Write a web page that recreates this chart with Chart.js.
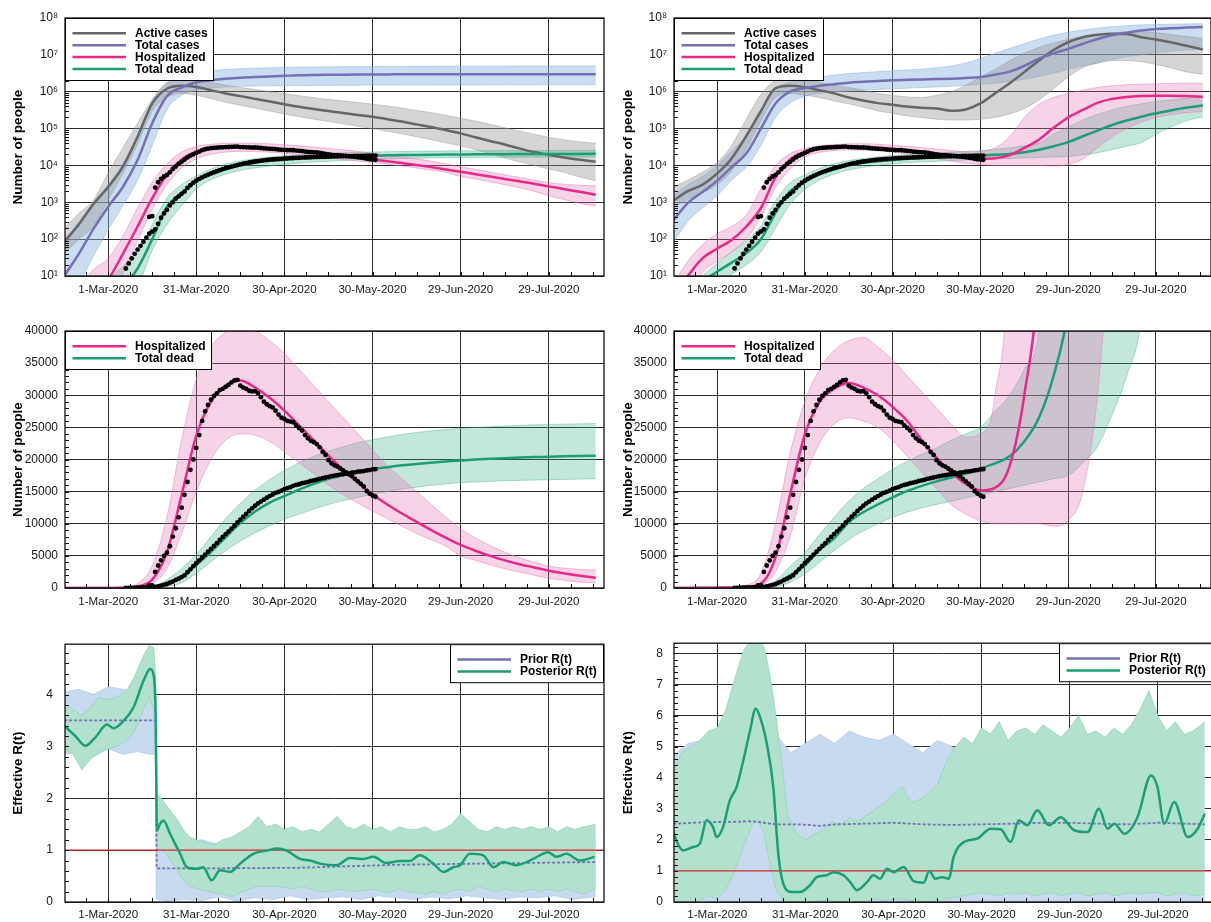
<!DOCTYPE html>
<html>
<head>
<meta charset="utf-8">
<script src="https://cdn.jsdelivr.net/npm/chart.js@4.4.1/dist/chart.umd.min.js"></script>
<style>
  html, body { margin: 0; padding: 0; background: #fff; }
  body { position: relative; width: 1211px; height: 922px; overflow: hidden; }
  canvas { position: absolute; }
</style>
</head>
<body>
<canvas id="casesLeft" width="608" height="302" style="left:0;top:0"></canvas>
<canvas id="casesRight" width="605" height="302" style="left:610px;top:0"></canvas>
<canvas id="hospLeft" width="608" height="301" style="left:0;top:313px"></canvas>
<canvas id="hospRight" width="605" height="301" style="left:610px;top:313px"></canvas>
<canvas id="rLeft" width="608" height="297" style="left:0;top:625px"></canvas>
<canvas id="rRight" width="605" height="297" style="left:610px;top:625px"></canvas>
<script>
// x axis: days counted from 1-Mar-2020
const X_MIN = -14.7, X_MAX = 168.8, X_MINOR = 7.5;
const tickDays = [0, 30, 60, 90, 120, 150];
const tickLabels = ['1-Mar-2020', '31-Mar-2020', '30-Apr-2020', '30-May-2020', '29-Jun-2020', '29-Jul-2020'];
const logTicks = [1e1, 1e2, 1e3, 1e4, 1e5, 1e6, 1e7, 1e8];
const countTicks = [0, 5000, 10000, 15000, 20000, 25000, 30000, 35000, 40000];
const rTicksLeft = [0, 1, 2, 3, 4];
const rTicksRight = [0, 1, 2, 3, 4, 5, 6, 7, 8];
const R_MAX_LEFT = 4.97, R_MAX_RIGHT = 8.33;
const R_THRESHOLD = 1;

// model output sampled on these days
const modelDays = [-15, -10, -5, 0, 5, 10, 15, 20, 25, 30, 35, 40, 45, 50, 55, 60, 65, 70, 75, 80,
  85, 90, 95, 100, 105, 110, 115, 120, 125, 130, 135, 140, 145, 150, 155, 160, 166];

// ---- scenario 1 (left column)
const activeL   = [85, 250, 900, 2600, 9300, 60000, 480000, 1200000, 1450000, 1350000, 1100000, 900000, 760000, 640000, 540000, 460000, 390000, 340000, 300000, 265000, 235000, 209000, 180000, 155000, 130000, 110000, 91000, 74000, 58000, 46000, 37000, 29000, 23000, 19500, 16500, 14500, 12600];
const activeLoL = [40, 100, 220, 1150, 6000, 38000, 300000, 700000, 900000, 800000, 650000, 520000, 430000, 360000, 300000, 250000, 210000, 180000, 155000, 135000, 115000, 100000, 85000, 72000, 60000, 50000, 41000, 34000, 27000, 21000, 16000, 12500, 10000, 8000, 6500, 5000, 3800];
const activeHiL = [200, 500, 1150, 6300, 30000, 140000, 620000, 1800000, 2200000, 2100000, 1800000, 1500000, 1300000, 1150000, 1000000, 880000, 780000, 690000, 620000, 560000, 510000, 460000, 410000, 360000, 310000, 270000, 230000, 190000, 160000, 130000, 105000, 85000, 70000, 58000, 50000, 44000, 40000];
const totalL    = [10, 40, 190, 760, 2600, 14000, 140000, 760000, 1300000, 1800000, 2050000, 2250000, 2400000, 2500000, 2600000, 2700000, 2800000, 2850000, 2880000, 2900000, 2920000, 2940000, 2950000, 2960000, 2970000, 2975000, 2980000, 2985000, 2990000, 2992000, 2994000, 2996000, 2997000, 2998000, 2999000, 3000000, 3000000];
const totalLoL  = [1.5, 6, 35, 180, 800, 4000, 35000, 330000, 800000, 1100000, 1250000, 1350000, 1400000, 1430000, 1450000, 1460000, 1470000, 1480000, 1490000, 1500000, 1500000, 1510000, 1510000, 1520000, 1520000, 1520000, 1530000, 1530000, 1530000, 1540000, 1540000, 1540000, 1540000, 1550000, 1550000, 1550000, 1550000];
const totalHiL  = [80, 300, 1000, 3000, 11000, 65000, 550000, 1650000, 2600000, 3300000, 3700000, 4000000, 4200000, 4350000, 4450000, 4550000, 4620000, 4680000, 4720000, 4760000, 4790000, 4820000, 4840000, 4860000, 4880000, 4890000, 4900000, 4910000, 4920000, 4930000, 4940000, 4950000, 4950000, 4960000, 4960000, 4970000, 4970000];
const hospL     = [0.5, 1, 3, 8, 40, 220, 1300, 5600, 14500, 23700, 29000, 31500, 32300, 31200, 29600, 27600, 25300, 23000, 20600, 18400, 16400, 14600, 13000, 11600, 10300, 9000, 7800, 6700, 5800, 5000, 4300, 3700, 3200, 2700, 2300, 1950, 1600];
const hospLoL   = [0.1, 0.2, 0.6, 2, 12, 90, 650, 3000, 8500, 15000, 20000, 23000, 24000, 23800, 22800, 21200, 19500, 17800, 16000, 14500, 13200, 12000, 10800, 9600, 8500, 7500, 6500, 5000, 4300, 3600, 3000, 2500, 2000, 1500, 1200, 950, 800];
const hospHiL   = [2, 5, 15, 30, 120, 700, 3500, 11000, 23000, 32500, 37500, 39800, 40500, 40000, 38500, 36500, 34000, 31500, 29000, 26500, 24000, 21500, 19000, 17000, 15000, 13000, 11000, 9200, 7800, 6600, 5600, 4700, 4000, 3400, 3100, 2900, 2800];
const deadL     = [0.3, 0.5, 1, 2, 5, 16, 100, 750, 1800, 3600, 5600, 7900, 10100, 11900, 13300, 14300, 15300, 16200, 17000, 17600, 18100, 18500, 18800, 19100, 19300, 19500, 19700, 19850, 20000, 20100, 20200, 20300, 20380, 20430, 20500, 20550, 20600];
const deadLoL   = [0.05, 0.1, 0.3, 0.6, 1.5, 5, 50, 250, 800, 2300, 4100, 5800, 7300, 8600, 9700, 10700, 11500, 12300, 13000, 13600, 14100, 14600, 15000, 15400, 15700, 16000, 16200, 16400, 16500, 16600, 16700, 16750, 16800, 16850, 16900, 16950, 17000];
const deadHiL   = [1, 2, 4, 8, 18, 40, 250, 1300, 3000, 5200, 8000, 10800, 13200, 15200, 16900, 18300, 19500, 20500, 21300, 22000, 22600, 23100, 23500, 23900, 24200, 24450, 24650, 24850, 25000, 25100, 25200, 25300, 25400, 25450, 25500, 25550, 25600];

// ---- scenario 2 (right column)
const activeR   = [1100, 2000, 3000, 6000, 15500, 63000, 300000, 1250000, 1450000, 1320000, 1100000, 900000, 700000, 580000, 490000, 440000, 395000, 370000, 350000, 305000, 330000, 480000, 900000, 1700000, 3400000, 7000000, 13500000, 22000000, 30000000, 35000000, 37500000, 37000000, 30000000, 26000000, 22000000, 18000000, 14000000];
const activeLoR = [700, 1200, 1800, 3000, 7000, 28000, 160000, 700000, 900000, 800000, 700000, 560000, 470000, 380000, 300000, 260000, 220000, 200000, 180000, 170000, 170000, 180000, 200000, 250000, 350000, 600000, 1200000, 2500000, 4500000, 6000000, 7000000, 7000000, 6500000, 5500000, 4500000, 3500000, 3000000];
const activeHiR = [2500, 4000, 6500, 12000, 35000, 180000, 850000, 2000000, 2400000, 2100000, 1800000, 1500000, 1300000, 1100000, 900000, 800000, 720000, 700000, 800000, 1000000, 1500000, 2500000, 4000000, 7000000, 11000000, 16000000, 21000000, 26000000, 31000000, 35000000, 39000000, 42000000, 42000000, 40000000, 36000000, 32000000, 28000000];
const totalR    = [320, 950, 1900, 3800, 9000, 21000, 100000, 480000, 1000000, 1250000, 1450000, 1600000, 1750000, 1850000, 1950000, 2050000, 2100000, 2150000, 2200000, 2250000, 2350000, 2500000, 2900000, 3500000, 5000000, 7900000, 11000000, 14500000, 20000000, 27000000, 34000000, 40000000, 46000000, 50000000, 53000000, 55000000, 57000000];
const totalLoR  = [80, 300, 700, 1500, 4000, 9000, 35000, 200000, 500000, 750000, 900000, 1000000, 1050000, 1100000, 1150000, 1200000, 1250000, 1300000, 1350000, 1400000, 1500000, 1600000, 1700000, 1900000, 2200000, 2600000, 3200000, 4000000, 5000000, 6000000, 7500000, 9000000, 10000000, 11500000, 12500000, 13500000, 14000000];
const totalHiR  = [1500, 3000, 5000, 10000, 25000, 60000, 300000, 1200000, 1800000, 2200000, 2500000, 2800000, 3100000, 3300000, 3500000, 3700000, 3900000, 4100000, 4500000, 5000000, 6000000, 8000000, 11000000, 15000000, 20000000, 27000000, 34000000, 41000000, 47000000, 53000000, 58000000, 62000000, 65000000, 67000000, 68000000, 69000000, 70000000];
const hospR     = [3, 10, 30, 55, 95, 220, 700, 4800, 14600, 23900, 28900, 31000, 31900, 31200, 30000, 28200, 26000, 23000, 20300, 18000, 16200, 15200, 15600, 19000, 30000, 50000, 105000, 200000, 320000, 500000, 640000, 720000, 760000, 775000, 775000, 760000, 730000];
const hospLoR   = [0.5, 3, 12, 25, 45, 100, 400, 2500, 8000, 17000, 22500, 25500, 26500, 26000, 25000, 23000, 20500, 18000, 15500, 13000, 11500, 10500, 10000, 10000, 10000, 10000, 9600, 10500, 15000, 30000, 60000, 100000, 150000, 200000, 240000, 270000, 290000];
const hospHiR   = [6, 25, 70, 140, 220, 450, 2300, 10000, 21000, 29000, 34000, 37000, 38500, 39000, 37500, 35500, 33000, 30500, 28000, 25500, 23500, 24000, 30000, 60000, 200000, 450000, 700000, 900000, 1100000, 1300000, 1450000, 1550000, 1600000, 1650000, 1680000, 1700000, 1700000];
const deadR     = [1.5, 3, 7, 13, 23, 42, 100, 520, 2000, 3500, 5900, 7700, 10200, 11800, 13000, 14100, 15100, 15900, 16600, 17200, 17800, 18600, 19400, 20500, 22800, 26500, 33000, 43000, 62000, 88000, 125000, 165000, 210000, 260000, 310000, 365000, 425000];
const deadLoR   = [0.3, 0.6, 2, 5, 11, 20, 45, 200, 900, 2200, 4000, 5800, 7500, 8900, 10000, 11000, 11800, 12500, 13000, 13500, 14000, 14500, 15000, 15500, 16000, 16500, 17000, 17500, 19500, 22000, 27000, 33000, 42000, 70000, 110000, 160000, 210000];
const deadHiR   = [2, 4, 10, 22, 45, 90, 230, 1100, 3400, 5500, 8300, 11000, 13500, 15500, 17000, 18500, 19700, 20800, 21800, 23000, 24000, 25000, 27500, 30000, 34000, 40000, 70000, 110000, 170000, 240000, 320000, 400000, 470000, 540000, 600000, 660000, 720000];

// ---- reported data (one value per day)
const hospObsStart = 14;
const hospObs = [400, 420, 2500, 3500, 4300, 5000, 5500, 6500, 8000, 9300, 11000, 12500, 14500, 16500, 18400, 20000, 21800, 23800, 26000, 27500,
  28500, 29300, 29900, 30300, 30800, 31000, 31300, 31600, 32000, 32300, 32400, 31500, 31200, 31000, 30700, 30600, 30650, 30300, 29700, 29000,
  28600, 28300, 28100, 27600, 27000, 26500, 26300, 26000, 25900, 25800, 25300, 24900, 24500, 23800, 23300, 22900, 22700, 22400, 21900, 21200,
  20700, 19900, 19400, 19100, 18900, 18600, 18300, 18000, 17700, 17400, 17000, 16600, 16200, 15800, 15100, 14700, 14400, 14200];
const deadObsStart = 6;
const deadObs = [16, 22, 30, 40, 52, 66, 85, 110, 140, 160, 185, 260, 380, 500, 620, 820, 1000, 1250, 1450, 1700,
  1950, 2450, 2900, 3400, 3850, 4300, 4750, 5200, 5650, 6100, 6550, 7000, 7500, 7950, 8400, 8800, 9250, 9700, 10200, 10650,
  11100, 11550, 12000, 12400, 12800, 13150, 13450, 13750, 14050, 14300, 14550, 14800, 14950, 15150, 15400, 15550, 15700, 15900, 16050, 16150,
  16300, 16400, 16500, 16650, 16750, 16850, 17000, 17100, 17200, 17300, 17400, 17500, 17550, 17650, 17700, 17800, 17850, 17950, 18000, 18100,
  18150, 18200, 18300, 18350, 18450, 18500];

// ---- effective reproduction number, scenario 1
const postDaysL = [-15, -11.2, -7.8, -4.4, -0.4, 1.8, 5.2, 8.6, 12, 14.3, 15.4, 16.2, 16.6, 17.7, 18.8, 21.1, 24.5, 26.8, 30.2, 32.4,
  35.2, 38.1, 41.5, 44.9, 49.4, 54, 57.4, 60.8, 65.3, 68.7, 72.1, 77.8, 82.3, 86.9, 90.2, 94.8, 99.3, 102.7, 106, 110.7,
  114.1, 117.5, 119.8, 123.1, 127.7, 131.1, 134.5, 139, 144.7, 149.8, 152.6, 156, 160.5, 165.6];
const postL = [3.4, 3.2, 3.01, 3.17, 3.42, 3.35, 3.49, 3.75, 4.26, 4.49, 4.39, 3.49, 1.38, 1.51, 1.57, 1.31, 0.93, 0.67, 0.64, 0.67,
  0.42, 0.61, 0.58, 0.74, 0.93, 0.99, 1.03, 0.99, 0.83, 0.8, 0.74, 0.71, 0.85, 0.83, 0.87, 0.75, 0.79, 0.79, 0.9, 0.74,
  0.58, 0.67, 0.71, 0.93, 0.9, 0.67, 0.77, 0.71, 0.83, 0.96, 0.87, 0.93, 0.8, 0.87];
const postBandDaysL = [-15, -12, -9, -6, -3, 0, 3, 6, 9, 12, 14, 15.5, 16.2, 16.6, 18, 20, 22, 24, 26, 28,
  30, 33, 36, 39, 42, 45, 48, 51, 54, 57, 60, 63, 66, 69, 72, 75, 78, 81, 84, 87,
  90, 93, 96, 99, 102, 105, 108, 111, 114, 117, 120, 123, 126, 129, 132, 135, 138, 141, 144, 147,
  150, 153, 156, 159, 162, 166];
const postLoL = [2.95, 2.85, 2.55, 2.75, 2.9, 2.95, 3.0, 3.1, 3.3, 3.7, 3.95, 3.7, 2.2, 1.0, 1.05, 0.9, 0.75, 0.55, 0.4, 0.3,
  0.26, 0.22, 0.18, 0.15, 0.1, 0.18, 0.25, 0.3, 0.3, 0.3, 0.28, 0.25, 0.3, 0.25, 0.2, 0.2, 0.25, 0.22, 0.2, 0.22,
  0.25, 0.2, 0.18, 0.25, 0.2, 0.18, 0.15, 0.2, 0.15, 0.22, 0.25, 0.2, 0.3, 0.25, 0.2, 0.25, 0.22, 0.2, 0.25, 0.2,
  0.25, 0.2, 0.25, 0.2, 0.15, 0.25];
const postHiL = [3.85, 3.7, 3.6, 3.75, 3.95, 3.9, 3.95, 4.05, 4.35, 4.75, 4.95, 4.9, 4.3, 2.1, 2.0, 1.85, 1.7, 1.55, 1.35, 1.25,
  1.2, 1.15, 1.1, 1.2, 1.25, 1.35, 1.45, 1.65, 1.45, 1.5, 1.4, 1.45, 1.35, 1.4, 1.35, 1.5, 1.65, 1.45, 1.4, 1.5,
  1.4, 1.45, 1.35, 1.45, 1.4, 1.4, 1.45, 1.35, 1.4, 1.5, 1.7, 1.55, 1.4, 1.35, 1.45, 1.4, 1.45, 1.4, 1.45, 1.4,
  1.45, 1.35, 1.45, 1.4, 1.45, 1.5];
const priorBandDaysL = [-15, -10, -5, 0, 5, 10, 14, 16.2, 16.4, 20, 26, 32, 38, 44, 50, 56, 62, 68, 74, 80,
  86, 92, 98, 104, 110, 116, 122, 128, 134, 140, 146, 152, 158, 166];
const priorLoL = [2.85, 2.9, 2.8, 2.95, 2.85, 2.9, 2.85, 2.85, 0.05, 0.02, 0.05, 0.03, 0.1, 0.02, 0.08, 0.05, 0.12, 0.05, 0.08, 0.1,
  0.05, 0.12, 0.08, 0.05, 0.1, 0.06, 0.12, 0.08, 0.05, 0.1, 0.08, 0.12, 0.05, 0.1];
const priorHiL = [4.05, 4.1, 4.0, 4.15, 4.1, 4.05, 4.0, 3.95, 1.3, 1.2, 1.15, 1.2, 1.1, 1.25, 1.2, 1.15, 1.25, 1.2, 1.15, 1.25,
  1.2, 1.15, 1.2, 1.25, 1.2, 1.15, 1.25, 1.2, 1.15, 1.2, 1.25, 1.2, 1.15, 1.2];
const priorDaysL = [-15, 16.2, 16.5, 40, 65, 100, 166];
const priorL = [3.5, 3.5, 0.65, 0.65, 0.66, 0.72, 0.77];

// ---- effective reproduction number, scenario 2
const postDaysR = [-15, -13.9, -11.6, -8.2, -5.9, -3.6, -1.4, -0.2, 2, 4.3, 6.6, 8.9, 11.2, 13.1, 14.6, 16.9, 19.1, 20.8, 22.5, 25.4,
  28.2, 31.6, 33.9, 37.3, 39.6, 43, 45.3, 47.6, 51, 53.2, 55.5, 57.8, 60.1, 63.5, 66.9, 70.3, 72.2, 74.3, 76.6, 78.9,
  80.5, 84, 88.5, 93.1, 96.5, 99.9, 102.7, 105.6, 109, 113, 117, 121.5, 126.1, 130, 132.9, 135.2, 138.6, 143.1, 147.7, 149.9,
  152.2, 155.6, 160.2, 163.6, 166];
const postR = [2.31, 1.98, 1.66, 1.77, 1.88, 2.63, 2.41, 2.09, 2.41, 3.27, 3.7, 4.56, 5.52, 6.22, 5.95, 5.09, 3.7, 1.56, 0.59, 0.32,
  0.32, 0.54, 0.8, 0.86, 0.96, 0.86, 0.64, 0.38, 0.64, 0.86, 0.75, 1.07, 0.96, 1.13, 0.67, 0.62, 1.0, 0.75, 0.8, 0.75,
  1.45, 1.93, 2.04, 2.36, 2.34, 1.93, 2.63, 2.47, 2.95, 2.47, 2.73, 2.31, 2.25, 3.0, 2.36, 2.52, 2.2, 2.73, 4.07, 3.7,
  2.52, 3.22, 2.09, 2.36, 2.84];
const postBandDaysR = [-15, -12, -9, -6, -3, 0, 3, 6, 9, 12, 14, 16, 18, 20, 22, 24, 27, 30, 33, 36,
  39, 42, 45, 48, 51, 54, 57, 60, 63, 66, 69, 72, 75, 78, 81, 84, 87, 90, 93, 96,
  99, 102, 105, 108, 111, 114, 117, 120, 123, 126, 129, 132, 135, 138, 141, 144, 147, 150, 153, 156,
  159, 162, 166];
const postLoR = [0, 0, 0, 0.05, 0.2, 0.1, 0.4, 1.0, 1.8, 2.5, 2.6, 2.2, 1.2, 0.4, 0.1, 0, 0, 0, 0, 0.05,
  0.05, 0, 0, 0, 0.05, 0.1, 0.05, 0.1, 0.1, 0.05, 0, 0, 0.05, 0.1, 0.15, 0.2, 0.25, 0.3, 0.25, 0.2,
  0.3, 0.25, 0.3, 0.2, 0.25, 0.3, 0.2, 0.25, 0.3, 0.2, 0.25, 0.3, 0.2, 0.25, 0.3, 0.25, 0.3, 0.3, 0.2, 0.25,
  0.3, 0.2, 0.25];
const postHiR = [4.2, 4.8, 5.0, 5.2, 5.5, 5.6, 6.2, 7.2, 8.1, 8.5, 8.5, 8.2, 7.3, 6.0, 4.5, 2.8, 2.2, 2.0, 2.2, 2.3,
  2.6, 2.5, 2.7, 2.6, 2.8, 3.0, 3.2, 3.5, 3.7, 3.2, 3.3, 3.5, 3.8, 4.5, 5.0, 5.3, 5.1, 5.6, 5.4, 5.8,
  5.2, 5.5, 5.6, 5.4, 5.7, 5.5, 5.3, 5.6, 6.0, 5.4, 5.5, 5.3, 5.6, 5.4, 5.7, 6.2, 6.8, 6.0, 5.5, 5.8,
  5.4, 5.5, 5.8];
const priorLoR = [0.02, 0, 0.05, 0, 0.03, 0, 0.02, 0.05, 0, 0.03, 0, 0.02, 0, 0.05, 0, 0.02, 0, 0.03, 0, 0.02,
  0, 0.05, 0, 0.02, 0, 0.03, 0, 0.02, 0, 0.05, 0, 0.02, 0, 0.03, 0, 0.02, 0];
const priorHiR = [4.7, 5.1, 5.2, 4.8, 5.1, 5.2, 5.0, 5.4, 4.8, 5.1, 5.4, 5.1, 5.5, 5.3, 5.2, 5.4, 5.1, 4.8, 5.2, 5.0,
  4.7, 4.9, 5.2, 5.0, 5.1, 4.9, 5.2, 5.0, 5.1, 5.3, 5.0, 5.2, 5.1, 4.9, 5.2, 5.0, 5.1];
const priorDaysR = [-15, -3, 5, 12, 20, 28, 35, 40, 50, 60, 70, 80, 90, 100, 110, 120, 130, 140, 150, 166];
const priorR = [2.52, 2.57, 2.58, 2.6, 2.5, 2.5, 2.45, 2.5, 2.52, 2.55, 2.5, 2.48, 2.5, 2.52, 2.55, 2.55, 2.52, 2.5, 2.55, 2.5];

// ---- styling
const FONT = '"Liberation Sans", Arial, Helvetica, sans-serif';
const GRID = '#2b2b2b';
const TICK = '#1a1a1a';
const SUP = ['\u2070', '\u00b9', '\u00b2', '\u00b3', '\u2074', '\u2075', '\u2076', '\u2077', '\u2078'];

const GREY = 'rgb(102,102,102)';
const PURPLE = 'rgb(117,112,179)';
const PINK = 'rgb(231,41,138)';
const GREEN = 'rgb(27,158,119)';

const GREY_FILL = 'rgba(150,150,150,0.4)', GREY_EDGE = 'rgba(150,150,150,0.55)';
const BLUE_FILL = 'rgba(140,180,225,0.45)', BLUE_EDGE = 'rgba(140,180,225,0.65)';
const PINK_FILL = 'rgba(225,110,175,0.3)', PINK_EDGE = 'rgba(225,110,175,0.55)';
const GREEN_FILL = 'rgba(60,175,135,0.3)', GREEN_EDGE = 'rgba(60,175,135,0.5)';
const R_BLUE_FILL = 'rgb(200,218,240)', R_BLUE_EDGE = 'rgb(178,203,234)';
const R_GREEN_FILL = 'rgb(178,226,206)', R_GREEN_EDGE = 'rgb(150,212,186)';

const legendCases = [['Active cases', GREY], ['Total cases', PURPLE], ['Hospitalized', PINK], ['Total dead', GREEN]];
const legendHosp = [['Hospitalized', PINK], ['Total dead', GREEN]];
const legendR = [['Prior R(t)', PURPLE], ['Posterior R(t)', GREEN]];

// ---- helpers
const pts = (days, vals) => days.map((d, i) => ({x: d, y: vals[i]}));
const dailyDays = (start, vals) => vals.map((_, i) => start + i);

function curve(days, vals, color, order, extra) {
  return Object.assign({
    data: pts(days, vals), borderColor: color, borderWidth: 2.5, pointRadius: 0,
    fill: false, cubicInterpolationMode: 'monotone', order
  }, extra || {});
}

function band(days, lo, hi, fillColor, edgeColor, order, smooth) {
  const common = {
    borderColor: edgeColor, borderWidth: 0.8, pointRadius: 0, order,
    cubicInterpolationMode: smooth ? 'monotone' : 'default', tension: 0
  };
  return [
    Object.assign({data: pts(days, lo), fill: false}, common),
    Object.assign({data: pts(days, hi), fill: '-1', backgroundColor: fillColor}, common)
  ];
}

function dots(days, vals) {
  return {
    data: pts(days, vals), showLine: false, pointRadius: 2.4,
    pointBackgroundColor: '#000', pointBorderWidth: 0, order: 0
  };
}

function xAxis(height, pad, z) {
  return {
    type: 'linear', min: X_MIN, max: X_MAX, z,
    afterBuildTicks: s => { s.ticks = tickDays.map(v => ({value: v})); },
    afterFit: s => { s.height = height; },
    grid: {color: GRID, lineWidth: 1, drawTicks: false},
    border: {display: false},
    ticks: {
      color: TICK, font: {family: FONT, size: 11.6}, padding: pad,
      autoSkip: false, maxRotation: 0,
      callback: v => tickLabels[tickDays.indexOf(v)]
    }
  };
}

function yAxis(o) {
  return {
    type: o.type || 'linear', min: o.min, max: o.max, z: o.z,
    afterBuildTicks: s => { s.ticks = o.ticks.map(v => ({value: v})); },
    afterFit: s => { s.width = o.width; },
    grid: {color: GRID, lineWidth: 1, drawTicks: false},
    border: {display: false},
    ticks: {color: TICK, font: {family: FONT, size: 12}, padding: o.pad, callback: o.label || (v => String(v))},
    title: {
      display: true, text: o.title, color: '#000',
      font: {family: FONT, size: 13.5, weight: 'bold'}, padding: {top: 10, bottom: 0}
    }
  };
}

const logLabel = v => '10' + SUP[Math.round(Math.log10(v))];

// minor tick positions on the y axes
const logMinor = [];
for (let k = 1; k < 8; k++) for (let m = 2; m < 10; m++) logMinor.push(m * Math.pow(10, k));
const countMinor = [];
for (let v = 1000; v < 40000; v += 1000) countMinor.push(v);
const rMinor = max => { const out = []; for (let i = 1; i * 0.2 < max; i++) out.push(i * 0.2); return out; };

// plot frame plus small inward ticks
function frameMarks(minorY) {
  return {
    id: 'frameMarks',
    afterDraw(chart) {
      const {ctx, chartArea: a, scales: {x, y}} = chart;
      ctx.save();
      ctx.strokeStyle = '#111';
      ctx.lineWidth = 1;
      ctx.beginPath();
      for (let d = Math.ceil(X_MIN / X_MINOR) * X_MINOR; d <= X_MAX; d += X_MINOR) {
        const px = Math.round(x.getPixelForValue(d)) + 0.5;
        ctx.moveTo(px, a.bottom);
        ctx.lineTo(px, a.bottom - 4);
      }
      minorY.forEach(v => {
        const py = Math.round(y.getPixelForValue(v)) + 0.5;
        ctx.moveTo(a.left, py);
        ctx.lineTo(a.left + 4, py);
      });
      ctx.stroke();
      ctx.lineWidth = 1.3;
      ctx.strokeRect(a.left, a.top, a.right - a.left, a.bottom - a.top);
      ctx.restore();
    }
  };
}

// boxed legend pinned to a corner of the plot area
function legendBox(entries, align, width, height) {
  return {
    id: 'legendBox',
    afterDraw(chart) {
      const {ctx, chartArea: a} = chart;
      const left = align === 'right' ? a.right - width : a.left;
      const top = a.top;
      ctx.save();
      ctx.fillStyle = '#fff';
      ctx.fillRect(left, top, width, height);
      ctx.strokeStyle = '#000';
      ctx.lineWidth = 1;
      ctx.strokeRect(left + 0.5, top + 0.5, width - 1, height - 1);
      ctx.font = 'bold 12px ' + FONT;
      ctx.textBaseline = 'middle';
      entries.forEach(([label, color], i) => {
        const yy = top + 15.3 + i * 11.9;
        ctx.strokeStyle = color;
        ctx.lineWidth = 2.5;
        ctx.beginPath();
        ctx.moveTo(left + 7.5, yy);
        ctx.lineTo(left + 61, yy);
        ctx.stroke();
        ctx.fillStyle = '#000';
        ctx.fillText(label, left + 70, yy + 0.5);
      });
      ctx.restore();
    }
  };
}

function makeChart(id, cfg) {
  return new Chart(document.getElementById(id), {
    type: 'line',
    data: {datasets: cfg.datasets},
    options: {
      responsive: false,
      animation: false,
      events: [],
      layout: {padding: {top: 18, right: cfg.padRight, left: 0, bottom: 0}},
      elements: {line: {capBezierPoints: false}, point: {radius: 0}},
      plugins: {legend: {display: false}, tooltip: {enabled: false}},
      scales: {x: cfg.x, y: cfg.y}
    },
    plugins: [frameMarks(cfg.minorY), legendBox(cfg.legend, cfg.legendAlign, cfg.legendW, cfg.legendH)]
  });
}

function caseSets(act, actLo, actHi, tot, totLo, totHi, hosp, hospLo, hospHi, dead, deadLo, deadHi) {
  return [
    dots(dailyDays(hospObsStart, hospObs), hospObs),
    dots(dailyDays(deadObsStart, deadObs), deadObs),
    curve(modelDays, hosp, PINK, 1),
    curve(modelDays, dead, GREEN, 1),
    curve(modelDays, tot, PURPLE, 2),
    curve(modelDays, act, GREY, 2),
    ...band(modelDays, hospLo, hospHi, PINK_FILL, PINK_EDGE, 6, true),
    ...band(modelDays, deadLo, deadHi, GREEN_FILL, GREEN_EDGE, 7, true),
    ...band(modelDays, actLo, actHi, GREY_FILL, GREY_EDGE, 8, true),
    ...band(modelDays, totLo, totHi, BLUE_FILL, BLUE_EDGE, 9, true)
  ];
}

function hospSets(hosp, hospLo, hospHi, dead, deadLo, deadHi) {
  return [
    dots(dailyDays(hospObsStart, hospObs), hospObs),
    dots(dailyDays(deadObsStart, deadObs), deadObs),
    curve(modelDays, hosp, PINK, 1),
    curve(modelDays, dead, GREEN, 1),
    ...band(modelDays, hospLo, hospHi, PINK_FILL, PINK_EDGE, 6, true),
    ...band(modelDays, deadLo, deadHi, GREEN_FILL, GREEN_EDGE, 7, true)
  ];
}

function rSets(postDays, post, postBandDays, postLo, postHi, priorBandDays, priorLo, priorHi, priorDays, prior) {
  return [
    curve(postDays, post, GREEN, 1),
    {
      data: [{x: X_MIN, y: R_THRESHOLD}, {x: X_MAX, y: R_THRESHOLD}],
      borderColor: 'rgb(210,40,40)', borderWidth: 1.3, pointRadius: 0, fill: false, order: 2
    },
    {
      data: pts(priorDays, prior), borderColor: PURPLE, borderWidth: 1.8, borderDash: [3, 2],
      pointRadius: 0, fill: false, tension: 0, order: 3
    },
    ...band(postBandDays, postLo, postHi, R_GREEN_FILL, R_GREEN_EDGE, 5, false),
    ...band(priorBandDays, priorLo, priorHi, R_BLUE_FILL, R_BLUE_EDGE, 6, false)
  ];
}

// ---- top row: all compartments, log scale
makeChart('casesLeft', {
  datasets: caseSets(activeL, activeLoL, activeHiL, totalL, totalLoL, totalHiL, hospL, hospLoL, hospHiL, deadL, deadLoL, deadHiL),
  x: xAxis(26, 7, 1),
  y: yAxis({type: 'logarithmic', min: 10, max: 1e8, ticks: logTicks, label: logLabel, width: 65, pad: 7, z: 1, title: 'Number of people'}),
  padRight: 4, minorY: logMinor,
  legend: legendCases, legendAlign: 'left', legendW: 149, legendH: 63
});
makeChart('casesRight', {
  datasets: caseSets(activeR, activeLoR, activeHiR, totalR, totalLoR, totalHiR, hospR, hospLoR, hospHiR, deadR, deadLoR, deadHiR),
  x: xAxis(26, 7, 1),
  y: yAxis({type: 'logarithmic', min: 10, max: 1e8, ticks: logTicks, label: logLabel, width: 64, pad: 7, z: 1, title: 'Number of people'}),
  padRight: 2, minorY: logMinor,
  legend: legendCases, legendAlign: 'left', legendW: 150, legendH: 63
});

// ---- middle row: hospitalized and dead, linear scale
makeChart('hospLeft', {
  datasets: hospSets(hospL, hospLoL, hospHiL, deadL, deadLoL, deadHiL),
  x: xAxis(26, 7, 1),
  y: yAxis({min: 0, max: 40000, ticks: countTicks, width: 65, pad: 7, z: 1, title: 'Number of people'}),
  padRight: 4, minorY: countMinor,
  legend: legendHosp, legendAlign: 'left', legendW: 147, legendH: 39
});
makeChart('hospRight', {
  datasets: hospSets(hospR, hospLoR, hospHiR, deadR, deadLoR, deadHiR),
  x: xAxis(26, 7, 1),
  y: yAxis({min: 0, max: 40000, ticks: countTicks, width: 64, pad: 7, z: 1, title: 'Number of people'}),
  padRight: 2, minorY: countMinor,
  legend: legendHosp, legendAlign: 'left', legendW: 147, legendH: 39
});

// ---- bottom row: effective reproduction number
makeChart('rLeft', {
  datasets: rSets(postDaysL, postL, postBandDaysL, postLoL, postHiL, priorBandDaysL, priorLoL, priorHiL, priorDaysL, priorL),
  x: xAxis(20, 6, 0),
  y: yAxis({min: 0, max: R_MAX_LEFT, ticks: rTicksLeft, width: 65, pad: 12, z: 0, title: 'Effective R(t)'}),
  padRight: 4, minorY: rMinor(R_MAX_LEFT),
  legend: legendR, legendAlign: 'right', legendW: 154, legendH: 39
});
makeChart('rRight', {
  datasets: rSets(postDaysR, postR, postBandDaysR, postLoR, postHiR, modelDays, priorLoR, priorHiR, priorDaysR, priorR),
  x: xAxis(20, 6, 0),
  y: yAxis({min: 0, max: R_MAX_RIGHT, ticks: rTicksRight, width: 64, pad: 11, z: 0, title: 'Effective R(t)'}),
  padRight: 2, minorY: rMinor(R_MAX_RIGHT),
  legend: legendR, legendAlign: 'right', legendW: 154, legendH: 39
});
</script>
</body>
</html>
